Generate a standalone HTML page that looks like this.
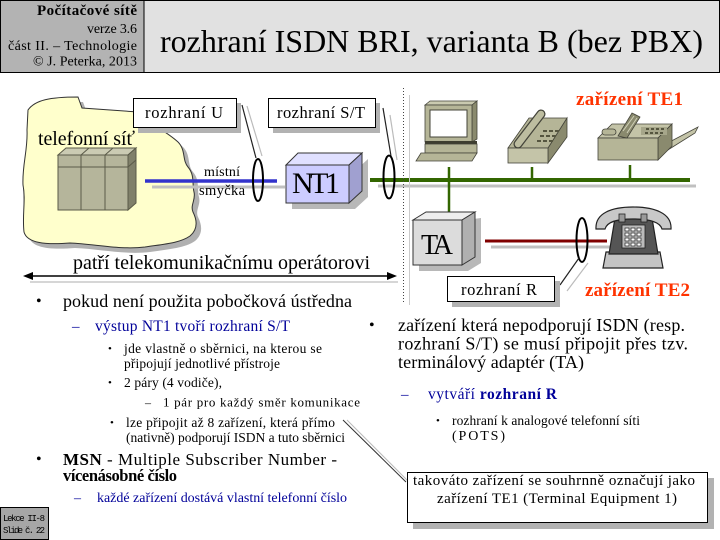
<!DOCTYPE html>
<html><head><meta charset="utf-8"><style>
html,body{margin:0;padding:0;background:#fff;}
svg{display:block;}
text{font-family:"Liberation Serif","DejaVu Serif",serif;fill:#000;}
text.mono{font-family:"Liberation Mono","DejaVu Sans Mono",monospace;}
.blue{fill:#000099;}
.red{fill:#ff3300;font-weight:bold;}
</style></head><body>
<svg width="720" height="540" viewBox="0 0 720 540" xmlns="http://www.w3.org/2000/svg" font-family="Liberation Serif, serif">
<rect width="720" height="540" fill="#fff"/>
<!-- header -->
<rect x="0.5" y="0.5" width="719" height="72" fill="#e1e1e1" stroke="#000"/>
<rect x="0.5" y="0.5" width="143.5" height="72" fill="#b3b3b3" stroke="#000"/>
<text x="137" y="15" font-size="15" font-weight="bold" text-anchor="end" textLength="100">Počítačové sítě</text>
<text x="137" y="33" font-size="14" text-anchor="end" textLength="50">verze 3.6</text>
<text x="137" y="50" font-size="14" text-anchor="end" textLength="129">část II. – Technologie</text>
<text x="137" y="65.5" font-size="14" text-anchor="end" textLength="104">© J. Peterka, 2013</text>
<text x="160" y="52" font-size="32" textLength="543">rozhraní ISDN BRI, varianta B (bez PBX)</text>

<!-- cloud -->
<path d="M28,110 C35,100 50,97 78,97 L82,108 L138,112 C150,125 165,130 178,142 C186,150 182,160 188,167 C195,175 192,185 194,192 C196,200 190,205 193,212 C198,222 197,230 190,236 C180,243 165,244 145,247 C120,250 95,244 70,243 C45,245 27,243 24,232 C22,215 26,200 23,185 C22,165 28,150 27,130 Z" fill="#b0b0b0" transform="translate(5,5)"/>
<path d="M28,110 C35,100 50,97 78,97 L82,108 L138,112 C150,125 165,130 178,142 C186,150 182,160 188,167 C195,175 192,185 194,192 C196,200 190,205 193,212 C198,222 197,230 190,236 C180,243 165,244 145,247 C120,250 95,244 70,243 C45,245 27,243 24,232 C22,215 26,200 23,185 C22,165 28,150 27,130 Z" fill="#ffffcc" stroke="#333" stroke-width="1"/>
<text x="38" y="145" font-size="20" textLength="97">telefonní síť</text>
<!-- server -->
<polygon points="58,155 66,148 136,148 128,155" fill="#cbcbb3" stroke="#5a5a48"/>
<polygon points="128,155 136,148 136,203 128,210" fill="#80806a" stroke="#5a5a48"/>
<rect x="58" y="155" width="70" height="55" fill="#b5b59b" stroke="#5a5a48"/>
<line x1="81" y1="155" x2="81" y2="210" stroke="#5a5a48"/>
<line x1="105" y1="155" x2="105" y2="210" stroke="#5a5a48"/>
<line x1="81" y1="155" x2="89" y2="148" stroke="#5a5a48"/>
<line x1="105" y1="155" x2="113" y2="148" stroke="#5a5a48"/>
<line x1="58" y1="167" x2="128" y2="167" stroke="#5a5a48"/>
<line x1="128" y1="167" x2="136" y2="160" stroke="#5a5a48"/>

<!-- label boxes -->
<rect x="138" y="103" width="103" height="30" fill="#b2b2b2"/>
<rect x="133.5" y="98.5" width="103" height="29" fill="#fff" stroke="#000"/>
<text x="145" y="118" font-size="16.5" textLength="78">rozhraní U</text>
<rect x="273" y="103" width="107" height="30" fill="#b2b2b2"/>
<rect x="268.5" y="98.5" width="107" height="29" fill="#fff" stroke="#000"/>
<text x="277" y="118" font-size="16.5" textLength="88">rozhraní S/T</text>

<!-- connectors from labels -->
<line x1="247" y1="106" x2="262" y2="156" stroke="#bbb" stroke-width="1.2"/>
<line x1="242" y1="105" x2="256" y2="158" stroke="#222" stroke-width="1.2"/>
<line x1="390" y1="115" x2="397" y2="160" stroke="#bbb" stroke-width="1.2"/>
<line x1="383" y1="108" x2="391" y2="156" stroke="#222" stroke-width="1.2"/>

<!-- blue local loop -->
<line x1="152" y1="187" x2="285" y2="187" stroke="#c0c0c0" stroke-width="3"/>
<line x1="145" y1="181" x2="277" y2="181" stroke="#3333cc" stroke-width="3.5"/>
<text x="204" y="176" font-size="14" textLength="36">místní</text>
<text x="199" y="195" font-size="14.5" textLength="46">smyčka</text>
<ellipse cx="258" cy="180" rx="5" ry="21" fill="none" stroke="#000" stroke-width="2"/>

<!-- NT1 -->
<polygon points="292,171 355,171 368,159 368,197 355,209 292,209" fill="#b8b8b8"/>
<polygon points="286,165 298,153 362,153 349,165" fill="#e0e0ff" stroke="#333"/>
<polygon points="349,165 362,153 362,191 349,203" fill="#a0a0d0" stroke="#333"/>
<rect x="286" y="165" width="63" height="38" fill="#ccccff" stroke="#333"/>
<text x="292" y="193" font-size="30" textLength="48">NT1</text>

<!-- green bus -->
<line x1="378" y1="186" x2="696" y2="186" stroke="#c0c0c0" stroke-width="3"/>
<line x1="370" y1="180" x2="690" y2="180" stroke="#336600" stroke-width="4"/>
<ellipse cx="389" cy="177" rx="5.5" ry="21.5" fill="none" stroke="#000" stroke-width="2"/>

<!-- divider -->
<line x1="403.5" y1="88" x2="403.5" y2="302" stroke="#444" stroke-width="1" stroke-dasharray="1,2"/>
<line x1="409.5" y1="95" x2="409.5" y2="305" stroke="#ccc" stroke-width="1"/>

<!-- arrow -->
<text x="73" y="269" font-size="20" textLength="297">patří telekomunikačnímu operátorovi</text>
<line x1="30" y1="282" x2="398" y2="282" stroke="#c8c8c8" stroke-width="1.5"/>
<line x1="28" y1="276" x2="392" y2="276" stroke="#000" stroke-width="1.5"/>
<polygon points="23,276 33,272 33,280" fill="#000"/>
<polygon points="397,276 387,272 387,280" fill="#000"/>

<!-- computer -->
<polygon points="425,105 430,101 477,101 472,105" fill="#cacab0" stroke="#44443a" stroke-width="0.8"/>
<polygon points="472,105 477,101 477,139 472,142" fill="#8a8a6e" stroke="#44443a" stroke-width="0.8"/>
<rect x="425" y="105" width="47" height="37" fill="#b5b597" stroke="#44443a" stroke-width="0.8"/>
<rect x="430" y="110" width="37" height="27" fill="#fff" stroke="#44443a" stroke-width="1"/>
<rect x="425" y="141" width="52" height="3" fill="#3e3e30"/>
<rect x="425" y="144" width="52" height="9" fill="#b5b597" stroke="#44443a" stroke-width="0.8"/>
<polygon points="421,153 477,153 472,161 416,161" fill="#b5b597" stroke="#44443a" stroke-width="0.8"/>
<line x1="449" y1="167" x2="449" y2="223" stroke="#336600" stroke-width="2.5"/>

<!-- phone TE1 -->
<polygon points="548,148 567,118 567,137 548,163" fill="#8a8a6e" stroke="#44443a" stroke-width="0.8"/>
<polygon points="508,148 548,148 567,118 529,118" fill="#b5b597" stroke="#44443a" stroke-width="0.8"/>
<rect x="508" y="148" width="40" height="15" fill="#c4c4a8" stroke="#44443a" stroke-width="0.8"/>
<line x1="518" y1="144" x2="541" y2="114" stroke="#44443a" stroke-width="9" stroke-linecap="round"/>
<line x1="518" y1="144" x2="541" y2="114" stroke="#bdbda0" stroke-width="6.5" stroke-linecap="round"/>
<g fill="#55553f">
<rect x="537" y="140" width="4" height="2"/><rect x="543" y="140" width="4" height="2"/><rect x="549" y="140" width="4" height="2"/>
<rect x="540" y="135" width="4" height="2"/><rect x="546" y="135" width="4" height="2"/><rect x="552" y="135" width="4" height="2"/>
<rect x="543" y="130" width="4" height="2"/><rect x="549" y="130" width="4" height="2"/><rect x="555" y="130" width="4" height="2"/>
</g>
<line x1="532" y1="167" x2="532" y2="180" stroke="#336600" stroke-width="2.5"/>

<!-- fax -->
<polygon points="660,147 698,127 695,133 663,153" fill="#c4c4a8" stroke="#44443a" stroke-width="0.8"/>
<polygon points="598,138 612,124 672,124 658,138" fill="#c4c4a8" stroke="#44443a" stroke-width="0.8"/>
<polygon points="658,138 672,124 672,146 658,160" fill="#8a8a6e" stroke="#44443a" stroke-width="0.8"/>
<rect x="598" y="138" width="60" height="22" fill="#b5b597" stroke="#44443a" stroke-width="0.8"/>
<polygon points="618,136 632,113 640,117 627,138" fill="#8a8a6e" stroke="#44443a" stroke-width="0.8"/>
<line x1="623" y1="131" x2="634" y2="116" stroke="#d0d0b8" stroke-width="1"/>
<line x1="627" y1="133" x2="637" y2="118" stroke="#d0d0b8" stroke-width="1"/>
<rect x="602" y="129" width="14" height="6" rx="3" fill="#b5b597" stroke="#44443a" stroke-width="0.8"/>
<rect x="641" y="127" width="26" height="8" fill="#a6a68a"/>
<g fill="#55553f">
<rect x="646" y="128" width="3" height="2"/><rect x="651" y="128" width="3" height="2"/><rect x="656" y="128" width="3" height="2"/><rect x="661" y="128" width="3" height="2"/>
<rect x="645" y="132" width="3" height="2"/><rect x="650" y="132" width="3" height="2"/><rect x="655" y="132" width="3" height="2"/><rect x="660" y="132" width="3" height="2"/>
</g>
<line x1="630" y1="165" x2="630" y2="180" stroke="#336600" stroke-width="2.5"/>

<text x="576" y="105" font-size="19" class="red" textLength="107">zařízení TE1</text>

<!-- TA -->
<polygon points="419,226 481,218 481,263 468,271 419,271" fill="#b8b8b8"/>
<polygon points="413,220 426,212 475,212 462,220" fill="#eeeeee" stroke="#333"/>
<polygon points="462,220 475,212 475,257 462,265" fill="#b0b0b0" stroke="#333"/>
<rect x="413" y="220" width="49" height="45" fill="#dcdcdc" stroke="#333"/>
<text x="421" y="254" font-size="28" textLength="32">TA</text>

<!-- red line -->
<line x1="491" y1="247" x2="612" y2="247" stroke="#c0c0c0" stroke-width="3"/>
<line x1="485" y1="241" x2="607" y2="241" stroke="#800000" stroke-width="3"/>

<!-- TE2 phone -->
<polygon points="606,252 660,252 663,268 603,268" fill="#c4c4c4" stroke="#222" stroke-width="1.2"/>
<polygon points="615,218 652,218 658,254 609,254" fill="#555" stroke="#222" stroke-width="1.2"/>
<path d="M596,229 C595,213 612,207 633,207 C654,207 672,213 671,229 L662,229 C660,222 650,219 633,219 C616,219 607,222 605,229 Z" fill="#c8c8c8" stroke="#222" stroke-width="1.2"/>
<rect x="619" y="214" width="6" height="8" fill="#999" stroke="#222" stroke-width="0.8"/>
<rect x="641" y="214" width="6" height="8" fill="#999" stroke="#222" stroke-width="0.8"/>
<rect x="622" y="225" width="23" height="23" fill="#bbb" stroke="#222" stroke-width="0.8"/>
<g fill="#fff" stroke="#222" stroke-width="0.7">
<rect x="625" y="228" width="4" height="3"/><rect x="631" y="228" width="4" height="3"/><rect x="637" y="228" width="4" height="3"/>
<rect x="625" y="233" width="4" height="3"/><rect x="631" y="233" width="4" height="3"/><rect x="637" y="233" width="4" height="3"/>
<rect x="625" y="238" width="4" height="3"/><rect x="631" y="238" width="4" height="3"/><rect x="637" y="238" width="4" height="3"/>
<rect x="625" y="243" width="4" height="3"/><rect x="631" y="243" width="4" height="3"/><rect x="637" y="243" width="4" height="3"/>
</g>
<ellipse cx="582" cy="240" rx="5.5" ry="22" fill="none" stroke="#000" stroke-width="2"/>

<!-- R label -->
<line x1="567" y1="291" x2="588" y2="263" stroke="#bbb" stroke-width="1.2"/>
<line x1="560" y1="285" x2="579" y2="258" stroke="#222" stroke-width="1.2"/>
<rect x="452" y="281" width="108" height="26" fill="#b2b2b2"/>
<rect x="447.5" y="276.5" width="107" height="25" fill="#fff" stroke="#000"/>
<text x="461" y="295" font-size="16.5" textLength="76">rozhraní R</text>
<text x="585" y="296" font-size="19" class="red" textLength="105">zařízení TE2</text>

<!-- left bullets -->
<text x="36" y="306" font-size="16">•</text>
<text x="63" y="307" font-size="18" textLength="289">pokud není použita pobočková ústředna</text>
<text x="72" y="331" font-size="15" class="blue">–</text>
<text x="95" y="331" font-size="15.5" class="blue" textLength="195">výstup NT1 tvoří rozhraní S/T</text>
<text x="108" y="352" font-size="11">•</text>
<text x="124" y="353" font-size="13.5" textLength="198">jde vlastně o sběrnici, na kterou se</text>
<text x="124" y="368" font-size="13.5" textLength="156">připojují jednotlivé přístroje</text>
<text x="108" y="386" font-size="11">•</text>
<text x="124" y="387" font-size="13.5" textLength="98">2 páry (4 vodiče),</text>
<text x="145" y="406.5" font-size="12">–</text>
<text x="163" y="406.5" font-size="13" textLength="197">1 pár pro každý směr komunikace</text>
<text x="110" y="426" font-size="11">•</text>
<text x="126" y="427" font-size="13.5" textLength="209">lze připojit až 8 zařízení, která přímo</text>
<text x="126" y="442" font-size="13.5" textLength="219">(nativně) podporují ISDN a tuto sběrnici</text>
<text x="36" y="464" font-size="16">•</text>
<text x="63" y="465" font-size="17" textLength="274"><tspan font-weight="bold">MSN</tspan> - Multiple Subscriber Number -</text>
<text x="63" y="481" font-size="16.5" font-weight="bold" textLength="114">vícenásobné číslo</text>
<text x="74" y="502" font-size="14" class="blue">–</text>
<text x="97" y="502" font-size="14" class="blue" textLength="250">každé zařízení dostává vlastní telefonní číslo</text>

<!-- footer -->
<rect x="0.5" y="507.5" width="48" height="32" fill="#a6a6a6" stroke="#000"/>
<text x="3" y="521" font-size="9" class="mono" textLength="42">Lekce II-8</text>
<text x="3" y="533" font-size="9" class="mono" textLength="42">Slide č. 22</text>

<!-- right bullets -->
<text x="369" y="330" font-size="16">•</text>
<text x="398" y="331" font-size="18" textLength="287">zařízení která nepodporují ISDN (resp.</text>
<text x="398" y="349.5" font-size="18" textLength="290">rozhraní S/T) se musí připojit přes tzv.</text>
<text x="398" y="368" font-size="18" textLength="186">terminálový adaptér (TA)</text>
<text x="401" y="399" font-size="15" class="blue">–</text>
<text x="428" y="399" font-size="15.5" class="blue" textLength="129">vytváří <tspan font-weight="bold">rozhraní R</tspan></text>
<text x="436" y="424" font-size="11">•</text>
<text x="452" y="425" font-size="13.5" textLength="188">rozhraní k analogové telefonní síti</text>
<text x="452" y="440" font-size="14" textLength="53">(POTS)</text>

<!-- callout -->
<line x1="347" y1="420" x2="409" y2="482" stroke="#bbb" stroke-width="1"/>
<line x1="343" y1="420" x2="406" y2="482" stroke="#333" stroke-width="1"/>
<rect x="413" y="478" width="301" height="51" fill="#b2b2b2"/>
<rect x="407.5" y="472.5" width="300" height="50" fill="#fff" stroke="#000"/>
<text x="413" y="485" font-size="15" textLength="282">takováto zařízení se souhrnně označují jako</text>
<text x="437" y="503" font-size="15" textLength="240">zařízení TE1 (Terminal Equipment 1)</text>
</svg>
</body></html>
